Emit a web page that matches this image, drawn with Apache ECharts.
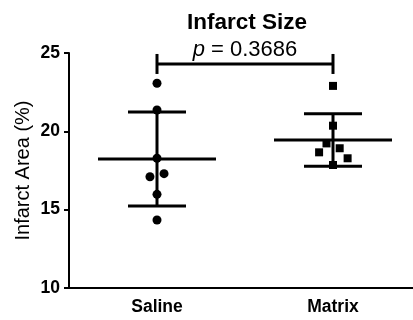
<!DOCTYPE html>
<html><head><meta charset="utf-8">
<script src="https://cdn.jsdelivr.net/npm/echarts@6/dist/echarts.min.js"></script>
<style>html,body{margin:0;padding:0;background:#fff}#c{width:413px;height:320px}</style>
</head><body><div id="c"></div>
<script>
const categories = ['Saline', 'Matrix'];
const salineValues = [23.07, 21.36, 18.28, 17.1, 17.3, 15.98, 14.34];
const salineJitter = [0, 0, 0, -0.04, 0.04, 0, 0];
const matrixValues = [22.9, 20.36, 19.23, 18.66, 18.92, 18.28, 17.85];
const matrixJitter = [0, 0, -0.037, -0.079, 0.038, 0.083, 0];
const means = [18.24, 19.45];
const sds = [3.0, 1.68];
const bracketY = 24.3;
const pText = '0.3686';
const yTicks = [10, 15, 20, 25];

const font = 'Liberation Sans, Arial, sans-serif';
const chart = echarts.init(document.getElementById('c'));

const errData = categories.map((c, i) => [i, means[i], means[i] - sds[i], means[i] + sds[i]]);

chart.setOption({
  animation: false,
  title: {
    text: 'Infarct Size', left: 242, top: 6, textAlign: 'center',
    textStyle: {fontFamily: font, fontWeight: 'bold', fontSize: 22.5, color: '#000'}
  },
  grid: {left: 69, width: 352, top: 53, bottom: 32, containLabel: false, outerBoundsMode: 'none'},
  xAxis: [{
    type: 'category', data: categories,
    axisLine: {onZero: false, lineStyle: {color: '#000', width: 2}},
    axisTick: {alignWithLabel: true, length: 5, lineStyle: {color: '#000', width: 2}},
    axisLabel: {fontFamily: font, fontWeight: 'bold', fontSize: 17.5, color: '#000', margin: 10}
  }, {
    type: 'value', min: -0.5, max: 1.5, show: false
  }],
  yAxis: {
    type: 'value', min: yTicks[0], max: yTicks[yTicks.length - 1], interval: 5,
    name: 'Infarct Area (%)', nameLocation: 'middle', nameGap: 36, nameMoveOverlap: false,
    nameTextStyle: {fontFamily: font, fontSize: 20, color: '#000'},
    axisLine: {show: true, onZero: false, lineStyle: {color: '#000', width: 2}},
    axisTick: {show: true, length: 5, lineStyle: {color: '#000', width: 2}},
    axisLabel: {fontFamily: font, fontWeight: 'bold', fontSize: 17.5, color: '#000', margin: 9},
    splitLine: {show: false}
  },
  series: [{
    type: 'scatter', xAxisIndex: 1, symbol: 'circle', symbolSize: 9,
    itemStyle: {color: '#000', opacity: 1},
    data: salineValues.map((v, i) => [0 + salineJitter[i], v])
  }, {
    type: 'scatter', xAxisIndex: 1, symbol: 'rect', symbolSize: 8,
    itemStyle: {color: '#000', opacity: 1},
    data: matrixValues.map((v, i) => [1 + matrixJitter[i], v])
  }, {
    type: 'custom', xAxisIndex: 0, data: errData, z: 5,
    renderItem: function (params, api) {
      const x = api.value(0);
      const m = api.coord([x, api.value(1)]);
      const lo = api.coord([x, api.value(2)]);
      const hi = api.coord([x, api.value(3)]);
      const st = {stroke: '#000', lineWidth: 3};
      return {type: 'group', children: [
        {type: 'line', shape: {x1: m[0] - 59, y1: m[1], x2: m[0] + 59, y2: m[1]}, style: st},
        {type: 'line', shape: {x1: lo[0], y1: lo[1], x2: hi[0], y2: hi[1]}, style: st},
        {type: 'line', shape: {x1: lo[0] - 29, y1: lo[1], x2: lo[0] + 29, y2: lo[1]}, style: st},
        {type: 'line', shape: {x1: hi[0] - 29, y1: hi[1], x2: hi[0] + 29, y2: hi[1]}, style: st}
      ]};
    }
  }, {
    type: 'custom', xAxisIndex: 0, data: [[0, 1, bracketY]], z: 5, clip: false,
    renderItem: function (params, api) {
      const a = api.coord([api.value(0), api.value(2)]);
      const b = api.coord([api.value(1), api.value(2)]);
      const st = {stroke: '#000', lineWidth: 3};
      return {type: 'group', children: [
        {type: 'line', shape: {x1: a[0], y1: a[1], x2: b[0], y2: b[1]}, style: st},
        {type: 'line', shape: {x1: a[0], y1: a[1] - 10, x2: a[0], y2: a[1] + 10}, style: st},
        {type: 'line', shape: {x1: b[0], y1: b[1] - 10, x2: b[0], y2: b[1] + 10}, style: st},
        {type: 'text', x: (a[0] + b[0]) / 2, y: a[1] - 3,
          style: {text: '{i|p} = ' + pText, align: 'center', verticalAlign: 'bottom',
            fontFamily: font, fontSize: 22, fill: '#000',
            rich: {i: {fontStyle: 'italic', fontFamily: font, fontSize: 22, fill: '#000'}}}}
      ]};
    }
  }]
});
</script></body></html>
